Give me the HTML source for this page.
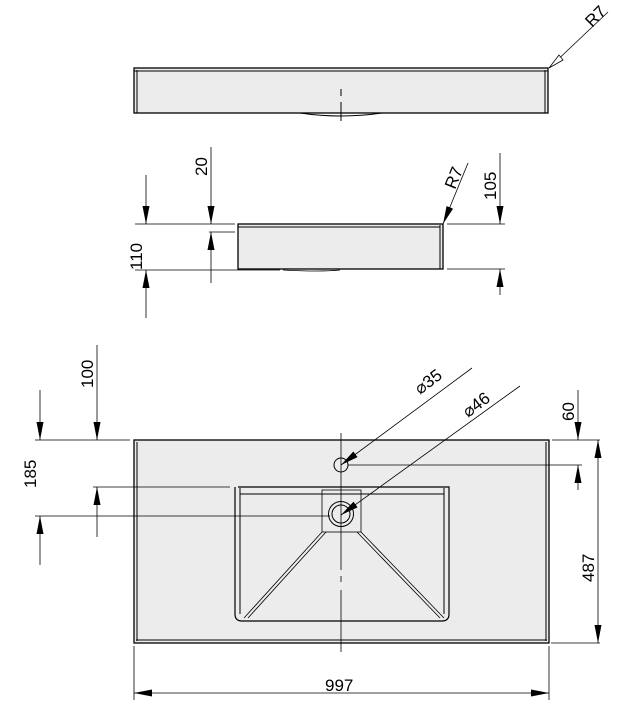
<!DOCTYPE html><html><head><style>html,body{margin:0;padding:0;background:#fff}svg{display:block}</style></head><body>
<svg width="628" height="706" viewBox="0 0 628 706" xmlns="http://www.w3.org/2000/svg" font-family="Liberation Sans, Arial, sans-serif" font-size="17">
<defs>
<marker id="a" viewBox="0 0 18 7" refX="18" refY="3.5" markerWidth="18" markerHeight="7" orient="auto-start-reverse" markerUnits="userSpaceOnUse"><path d="M0,0L18,3.5L0,7z" fill="#000"/></marker>
</defs>
<g stroke="#000" fill="none" stroke-width="1">
<!-- top view -->
<rect x="134" y="68" width="414" height="45" fill="#ececec" stroke-width="1.3"/>
<line x1="134" y1="71" x2="548" y2="71"/>
<line x1="137" y1="70" x2="137" y2="113"/><line x1="545" y1="70" x2="545" y2="113"/>
<path d="M300,113 Q341,119 382,113"/>
<line x1="341" y1="89" x2="341" y2="96"/><line x1="341" y1="102" x2="341" y2="121"/>
<line x1="608" y1="12" x2="549" y2="68" stroke-width="0.8"/>
<path d="M549,68 L559,55 L563,60 Z" fill="#fff" stroke-width="0.8"/>
<!-- side view -->
<rect x="238" y="224" width="205" height="45" fill="#ececec" stroke-width="1.3"/>
<line x1="238" y1="227" x2="440" y2="227"/><line x1="440" y1="225" x2="440" y2="269"/>
<path d="M283,270 Q320,272 340,270" stroke-width="0.8"/>
<g stroke-width="0.8">
<line x1="135" y1="224" x2="235" y2="224"/><line x1="135" y1="270" x2="280" y2="270"/>
<line x1="209" y1="232" x2="235" y2="232"/>
<line x1="447" y1="224" x2="505" y2="224"/><line x1="447" y1="269" x2="505" y2="269"/>
<line x1="146" y1="175" x2="146" y2="224" marker-end="url(#a)"/><line x1="146" y1="318" x2="146" y2="270" marker-end="url(#a)"/>
<line x1="211" y1="147" x2="211" y2="224" marker-end="url(#a)"/><line x1="211" y1="283" x2="211" y2="232" marker-end="url(#a)"/>
<line x1="500" y1="153" x2="500" y2="224" marker-end="url(#a)"/><line x1="500" y1="295" x2="500" y2="269" marker-end="url(#a)"/>
<line x1="468" y1="163" x2="443" y2="224" marker-end="url(#a)"/>
</g>
<!-- bottom view -->
<rect x="134" y="440" width="415" height="203" fill="#ececec" stroke-width="1.3"/>
<line x1="137" y1="442" x2="137" y2="641"/><line x1="546" y1="442" x2="546" y2="641"/><line x1="136" y1="640" x2="547" y2="640"/>
<path d="M238,487 H449 V614 Q449,621 442,621 H242 Q235,621 235,614 V487" fill="#ececec" stroke-width="1.2"/>
<line x1="240" y1="494" x2="444" y2="494"/>
<rect x="322" y="490" width="39" height="42" stroke-width="0.8"/>
<path d="M322,532 L244,618 M361,532 L444,618 M326,532 L248,618 M357,532 L440,618" stroke-width="0.8"/>
<path d="M240,488 V614 M444,488 V614"/>
<circle cx="341" cy="465" r="7"/>
<circle cx="341" cy="514" r="12.5"/><circle cx="341" cy="514" r="9"/>
<line x1="341" y1="433" x2="341" y2="570" stroke-width="0.8"/><line x1="341" y1="576" x2="341" y2="582" stroke-width="0.8"/><line x1="341" y1="590" x2="341" y2="652" stroke-width="0.8"/>
<g stroke-width="0.8">
<line x1="35" y1="440" x2="130" y2="440"/><line x1="93" y1="487" x2="230" y2="487"/><line x1="35" y1="516" x2="330" y2="516"/>
<line x1="552" y1="440" x2="600" y2="440"/><line x1="348" y1="465" x2="582" y2="465"/><line x1="551" y1="643" x2="600" y2="643"/>
<line x1="134" y1="646" x2="134" y2="700"/><line x1="549" y1="646" x2="549" y2="700"/>
<line x1="97" y1="345" x2="97" y2="440" marker-end="url(#a)"/><line x1="97" y1="537" x2="97" y2="487" marker-end="url(#a)"/>
<line x1="40" y1="390" x2="40" y2="440" marker-end="url(#a)"/><line x1="40" y1="565" x2="40" y2="516" marker-end="url(#a)"/>
<line x1="578" y1="390" x2="578" y2="440" marker-end="url(#a)"/><line x1="578" y1="490" x2="578" y2="465" marker-end="url(#a)"/>
<line x1="598" y1="440" x2="598" y2="643" marker-start="url(#a)" marker-end="url(#a)"/>
<line x1="134" y1="693" x2="549" y2="693" marker-start="url(#a)" marker-end="url(#a)"/>
<line x1="472" y1="368" x2="341" y2="465" marker-end="url(#a)"/>
<line x1="520" y1="386" x2="341" y2="515" marker-end="url(#a)"/>
</g>
</g>
<g fill="#000">
<text transform="translate(592,28) rotate(-45)">R7</text>
<text transform="translate(455,190) rotate(-68)">R7</text>
<text transform="translate(142,270) rotate(-90)">110</text>
<text transform="translate(207,176) rotate(-90)">20</text>
<text transform="translate(496,200) rotate(-90)">105</text>
<text transform="translate(93,388) rotate(-90)">100</text>
<text transform="translate(36,488) rotate(-90)">185</text>
<text transform="translate(574,421) rotate(-90)">60</text>
<text transform="translate(594,582) rotate(-90)">487</text>
<text x="325" y="691">997</text>
<text transform="translate(420,395) rotate(-37)">⌀35</text>
<text transform="translate(468,418) rotate(-37)">⌀46</text>
</g>
</svg>
</body></html>
